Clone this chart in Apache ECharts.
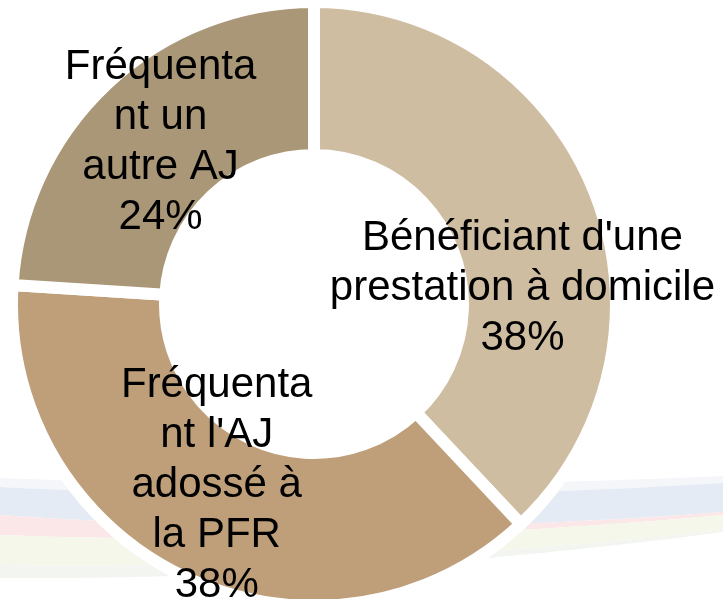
<!DOCTYPE html>
<html>
<head>
<meta charset="utf-8">
<script src="https://cdn.jsdelivr.net/npm/echarts@6/dist/echarts.min.js"></script>
<style>
  html, body { margin: 0; padding: 0; background: #fff; }
  #chart { width: 723px; height: 599px; }
</style>
</head>
<body>
<div id="chart"></div>
<script>
// données
var categories = ["Bénéficiant d'une prestation à domicile", "Fréquentant l'AJ adossé à la PFR", "Fréquentant un autre AJ"];
var percents = [38, 38, 24];
// texte des étiquettes, coupé comme dans l'original
var labelLines = [
  ["Bénéficiant d'une", "prestation à domicile"],
  ["Fréquenta", "nt l'AJ", "adossé à", "la PFR"],
  ["Fréquenta", "nt un", "autre AJ"]
];
var sliceColors = ["#CFBDA2", "#BE9F7A", "#A99777"];
// décalage des étiquettes par rapport à la position "inside"
var labelDx = [-4, 0, 3];
var labelDy = [69, -25, 5];

var chart = echarts.init(document.getElementById("chart"));

// bandes décoratives du fond : bord haut [yGauche, yMilieu, yDroite], bord bas idem
var bands = [
  { top: [478, 492, 476], bottom: [487, 505, 483], fill: "#F4F6FA" },
  { top: [487, 505, 483], bottom: [515, 540, 512], fill: "#E5EBF4" },
  { top: [515, 540, 512], bottom: [535, 548, 515], fill: "#FBE6E8" },
  { top: [535, 548, 515], bottom: [565, 570, 530], fill: "#F5F7EA" },
  { top: [565, 570, 530], bottom: [578, 580, 532], fill: "#F2F5F0" }
];

function curve(ys, reverse) {
  var pts = [];
  for (var i = 0; i <= 40; i++) {
    var t = i / 40;
    var x = 2 * t * (1 - t) * 360 + t * t * 723;
    var y = (1 - t) * (1 - t) * ys[0] + 2 * t * (1 - t) * ys[1] + t * t * ys[2];
    pts.push([x, y]);
  }
  return reverse ? pts.reverse() : pts;
}

chart.setOption({
  animation: false,
  backgroundColor: "#fff",
  graphic: bands.map(function (b) {
    return {
      type: "polygon",
      z: -10,
      silent: true,
      shape: { points: curve(b.top).concat(curve(b.bottom, true)) },
      style: { fill: b.fill }
    };
  }),
  series: [
    {
      type: "pie",
      center: [314, 304],
      radius: [149, 302],
      startAngle: 90,
      clockwise: true,
      silent: true,
      itemStyle: {
        borderColor: "#fff",
        borderWidth: 12
      },
      label: {
        show: true,
        position: "inside",
        color: "#000",
        fontFamily: "Liberation Sans, Arial, sans-serif",
        fontSize: 42,
        lineHeight: 50,
        align: "center",
        formatter: function (p) {
          return labelLines[p.dataIndex].concat([p.value + "%"]).join("\n");
        }
      },
      labelLayout: function (p) {
        return { dx: labelDx[p.dataIndex], dy: labelDy[p.dataIndex] };
      },
      labelLine: { show: false },
      data: categories.map(function (name, i) {
        return { name: name, value: percents[i], itemStyle: { color: sliceColors[i] } };
      })
    }
  ]
});
</script>
</body>
</html>
